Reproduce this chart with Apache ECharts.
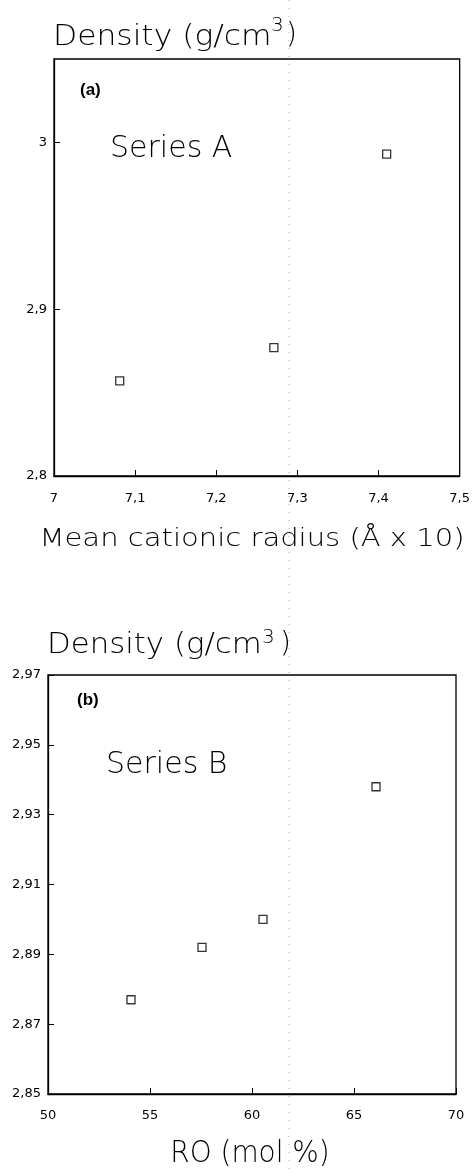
<!DOCTYPE html>
<html><head><meta charset="utf-8">
<script src="https://cdn.jsdelivr.net/npm/echarts@6/dist/echarts.min.js"></script>
<style>html,body{margin:0;padding:0;background:#fff}#c{width:473px;height:1171px}</style>
</head><body><div id="c"></div>
<script>
// Panel (a): density vs mean cationic radius
const radiusA = [7.081, 7.271, 7.410];
const densityA = [2.857, 2.877, 2.993];
// Panel (b): density vs RO mol %
const roB = [54.07, 57.55, 60.54, 66.08];
const densityB = [2.877, 2.892, 2.900, 2.938];

const FONT = 'DejaVu Sans';
const comma = v => String(parseFloat(v.toFixed(3))).replace('.', ',');

const chart = echarts.init(document.getElementById('c'));
const axisCommon = {
  axisLine: {show: true, lineStyle: {color: '#000', width: 1.3}},
  axisTick: {show: true, inside: true, length: 6, lineStyle: {color: '#000'}},
  splitLine: {show: false},
  axisLabel: {color: '#000', fontFamily: FONT, fontSize: 13, formatter: comma}
};
const sym = {type: 'scatter', symbol: 'rect', symbolSize: 8,
  itemStyle: {color: '#fff', borderColor: '#000', borderWidth: 1.3}, silent: true};
const thin = (extra) => Object.assign({fontFamily: FONT, fontWeight: 200, fill: '#000'}, extra);

chart.setOption({
  animation: false,
  backgroundColor: '#fff',
  grid: [
    {left: 54, top: 59, width: 407, height: 417, show: true, borderColor: '#000', borderWidth: 1.3},
    {left: 48, top: 675, width: 408, height: 419, show: true, borderColor: '#000', borderWidth: 1.3}
  ],
  xAxis: [
    Object.assign({}, axisCommon, {gridIndex: 0, type: 'value', min: 7, max: 7.5, interval: 0.1,
      axisLabel: Object.assign({}, axisCommon.axisLabel, {margin: 16})}),
    Object.assign({}, axisCommon, {gridIndex: 1, type: 'value', min: 50, max: 70, interval: 5,
      axisLabel: Object.assign({}, axisCommon.axisLabel, {margin: 15})})
  ],
  yAxis: [
    Object.assign({}, axisCommon, {gridIndex: 0, type: 'value', min: 2.8, max: 3.05, interval: 0.1,
      axisLabel: Object.assign({}, axisCommon.axisLabel, {showMaxLabel: false, margin: 7})}),
    Object.assign({}, axisCommon, {gridIndex: 1, type: 'value', min: 2.85, max: 2.97, interval: 0.02,
      axisLabel: Object.assign({}, axisCommon.axisLabel, {margin: 7})})
  ],
  series: [
    Object.assign({}, sym, {xAxisIndex: 0, yAxisIndex: 0, data: radiusA.map((x, i) => [x, densityA[i]])}),
    Object.assign({}, sym, {xAxisIndex: 1, yAxisIndex: 1, data: roB.map((x, i) => [x, densityB[i]])})
  ],
  graphic: [
    {type: 'line', shape: {x1: 289, y1: 0, x2: 289, y2: 1171}, silent: true,
     style: {stroke: '#aaa', lineWidth: 1, lineDash: [1, 7]}},
    // panel (a) texts
    {type: 'text', x: 53, y: 38, scaleX: 1.12, style: thin({text: 'Density (g/cm', fontSize: 28, verticalAlign: 'middle'})},
    {type: 'text', x: 271, y: 26, style: thin({text: '3', fontSize: 20, verticalAlign: 'middle'})},
    {type: 'text', x: 286, y: 36, style: thin({text: ')', fontSize: 28, verticalAlign: 'middle'})},
    {type: 'text', x: 80, y: 90, style: {text: '(a)', fontFamily: 'Liberation Sans', fontWeight: 'bold', fontSize: 17, fill: '#000', verticalAlign: 'middle'}},
    {type: 'text', x: 110, y: 149, style: thin({text: 'Series A', fontSize: 30, verticalAlign: 'middle'})},
    {type: 'text', x: 252, y: 540, scaleX: 1.21, style: thin({text: 'Mean cationic radius (Å x 10)', fontSize: 24, align: 'center', verticalAlign: 'middle'})},
    // panel (b) texts
    {type: 'text', x: 47, y: 646, scaleX: 1.10, style: thin({text: 'Density (g/cm', fontSize: 28, verticalAlign: 'middle'})},
    {type: 'text', x: 262, y: 638, style: thin({text: '3', fontSize: 20, verticalAlign: 'middle'})},
    {type: 'text', x: 280, y: 645, style: thin({text: ')', fontSize: 28, verticalAlign: 'middle'})},
    {type: 'text', x: 77, y: 700, style: {text: '(b)', fontFamily: 'Liberation Sans', fontWeight: 'bold', fontSize: 17, fill: '#000', verticalAlign: 'middle'}},
    {type: 'text', x: 106, y: 765, style: thin({text: 'Series B', fontSize: 30, verticalAlign: 'middle'})},
    {type: 'text', x: 250, y: 1154, scaleX: 0.93, style: thin({text: 'RO (mol %)', fontSize: 30, align: 'center', verticalAlign: 'middle'})}
  ]
});
</script></body></html>
